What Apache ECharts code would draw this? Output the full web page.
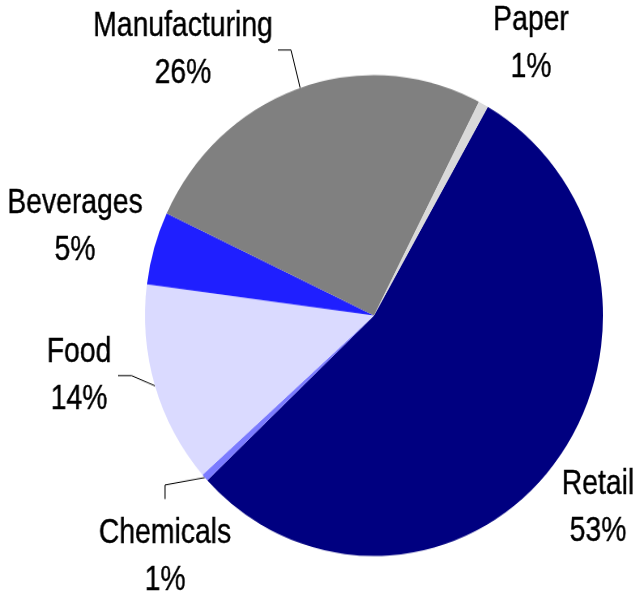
<!DOCTYPE html>
<html>
<head>
<meta charset="utf-8">
<script src="https://cdn.jsdelivr.net/npm/echarts@6/dist/echarts.min.js"></script>
<style>
  html, body { margin: 0; padding: 0; background: #ffffff; overflow: hidden; }
  .layer { position: absolute; left: 0; top: 0; width: 637px; height: 593px; }
  #pie { transform: scaleY(1.05); transform-origin: 0 315.5px; }
  #labels { transform: scaleX(0.81); transform-origin: 0 0; width: 787px; }
</style>
</head>
<body>
<div id="pie" class="layer"></div>
<div id="labels" class="layer"></div>
<script>
// ---- data ----
const categories = ['Retail', 'Chemicals', 'Food', 'Beverages', 'Manufacturing', 'Paper'];
const shares = [54.7, 0.5, 13.6, 4.9, 25.6, 0.7];
const pctLabels = ['53%', '1%', '14%', '5%', '26%', '1%'];

// ---- styling / layout ----
const colors = ['#000080', '#7b7bff', '#dadaff', '#1f1fff', '#808080', '#d9d9d9'];
const SX = 0.81;          // horizontal squeeze of the label text layer
// label block centres in page pixels
const labelCentres = [
  [598, 508], [165, 557], [79, 376], [75, 227], [183, 50], [531, 44]
];
// label-line bend points (pie layer, pre-stretch pixels); null = no line
const labelLines = [
  null,
  [[165, 476.9], [165, 490.3]],
  [[131.7, 372.8], [118, 372.8]],
  null,
  [[291, 62.6], [278, 62.6]],
  null
];

const fontFamily = '"Liberation Sans", Arial, sans-serif';

// ---- pie layer (with label lines) ----
const pieChart = echarts.init(document.getElementById('pie'), null, { renderer: 'canvas' });
pieChart.setOption({
  animation: false,
  series: [{
    type: 'pie',
    center: [374, 315.5],
    radius: 229,
    startAngle: 60.2,
    clockwise: true,
    avoidLabelOverlap: false,
    silent: true,
    data: categories.map((name, i) => ({
      name: name,
      value: shares[i],
      itemStyle: { color: colors[i] },
      labelLine: { show: !!labelLines[i] }
    })),
    itemStyle: { borderWidth: 0 },
    label: { show: true, position: 'outside', formatter: ' ', color: 'rgba(0,0,0,0)', fontSize: 2 },
    labelLine: {
      show: true, length: 10, length2: 10, smooth: false,
      lineStyle: { color: '#000000', width: 1 }
    },
    labelLayout: function (params) {
      const ln = labelLines[params.dataIndex];
      if (!ln || !params.labelLinePoints) return {};
      return {
        x: ln[1][0], y: ln[1][1],
        labelLinePoints: [params.labelLinePoints[0], ln[0], ln[1]]
      };
    }
  }]
});

// ---- text layer (narrowed labels) ----
const labelChart = echarts.init(document.getElementById('labels'), null, { renderer: 'canvas' });
labelChart.setOption({
  animation: false,
  series: [{
    type: 'pie',
    center: [374 / SX, 315.5],
    radius: 229,
    startAngle: 60.2,
    silent: true,
    avoidLabelOverlap: false,
    data: categories.map((name, i) => ({ name: name, value: shares[i] })),
    itemStyle: { color: 'rgba(0,0,0,0)', borderWidth: 0 },
    label: {
      show: true,
      position: 'outside',
      formatter: p => p.name + '\n' + pctLabels[p.dataIndex],
      color: '#000000',
      fontFamily: fontFamily,
      fontSize: 35,
      lineHeight: 47,
      align: 'center',
      textBorderColor: '#000000',
      textBorderWidth: 0.4
    },
    labelLine: { show: false },
    labelLayout: function (params) {
      const c = labelCentres[params.dataIndex];
      return { x: c[0] / SX, y: c[1], align: 'center', verticalAlign: 'middle' };
    }
  }]
});
</script>
</body>
</html>
